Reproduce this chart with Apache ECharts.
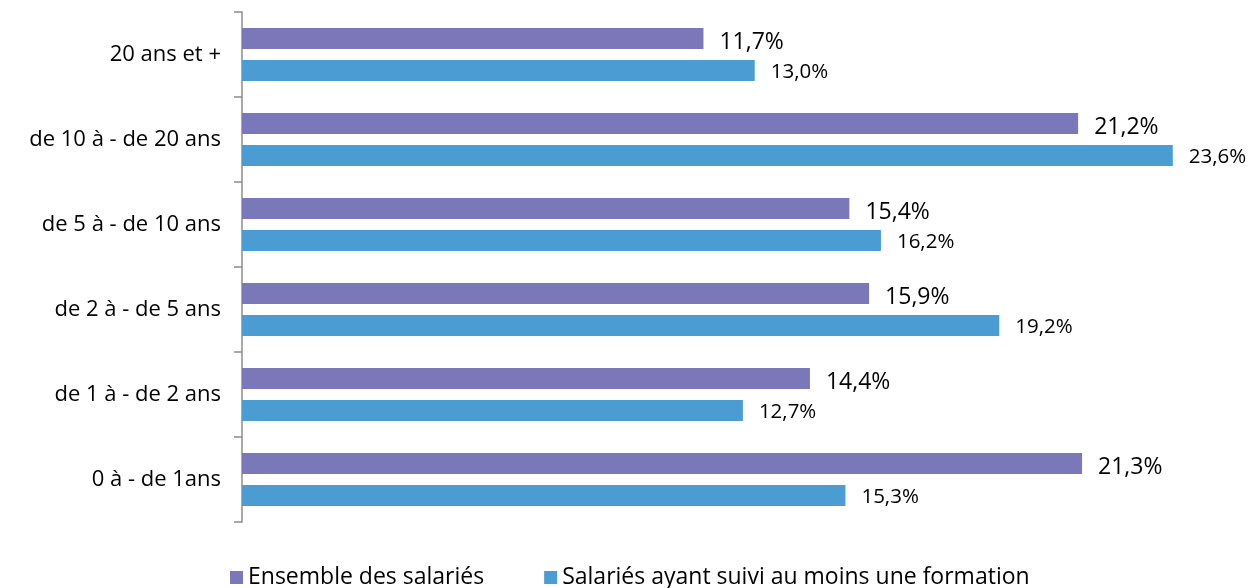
<!DOCTYPE html>
<html>
<head>
<meta charset="utf-8">
<script src="https://cdn.jsdelivr.net/npm/echarts@6/dist/echarts.min.js"></script>
<style>
  html, body { margin: 0; padding: 0; background: #fff; }
  #chart { width: 1253px; height: 588px; }
</style>
</head>
<body>
<div id="chart"></div>
<script>
// categories listed top to bottom (axis is inverted)
const categories = ['20 ans et +', 'de 10 à - de 20 ans', 'de 5 à - de 10 ans', 'de 2 à - de 5 ans', 'de 1 à - de 2 ans', '0 à - de 1ans']
const ensemble = [11.7, 21.2, 15.4, 15.9, 14.4, 21.3]
const formes = [13.0, 23.6, 16.2, 19.2, 12.7, 15.3]
const seriesNames = ['Ensemble des salariés', 'Salariés ayant suivi au moins une formation']
const colors = ['#7b78b9', '#4b9cd3']

const fmt = (p) => p.value.toFixed(1).replace('.', ',') + '%'
const font = '"Open Sans", sans-serif'

const chart = echarts.init(document.getElementById('chart'))
chart.setOption({
  animation: false,
  textStyle: { fontFamily: font },
  grid: { left: 242, right: 25, top: 12, bottom: 66 },
  xAxis: { type: 'value', min: 0, max: 25, show: false },
  yAxis: {
    type: 'category',
    data: categories,
    inverse: true,
    axisLine: { show: true, lineStyle: { color: '#8c8c8c', width: 1.5 } },
    axisTick: { show: true, length: 8, lineStyle: { color: '#8c8c8c', width: 1.5 } },
    axisLabel: { color: '#000', fontSize: 22, margin: 21, fontFamily: font },
  },
  legend: {
    data: seriesNames,
    top: 561,
    left: 225,
    icon: 'rect',
    itemWidth: 13,
    itemHeight: 13,
    itemGap: 60,
    textStyle: { color: '#000', fontSize: 23, fontFamily: font },
  },
  series: [
    {
      name: seriesNames[0],
      type: 'bar',
      data: ensemble,
      barWidth: 21,
      barGap: '52%',
      itemStyle: { color: colors[0] },
      label: { show: true, position: 'right', distance: 16, offset: [0, 4], color: '#000', fontSize: 23, fontFamily: font, formatter: fmt },
    },
    {
      name: seriesNames[1],
      type: 'bar',
      data: formes,
      barWidth: 21,
      barGap: '52%',
      itemStyle: { color: colors[1] },
      label: { show: true, position: 'right', distance: 16, offset: [0, 2], color: '#000', fontSize: 20.5, fontFamily: font, formatter: fmt },
    },
  ],
})
</script>
</body>
</html>
